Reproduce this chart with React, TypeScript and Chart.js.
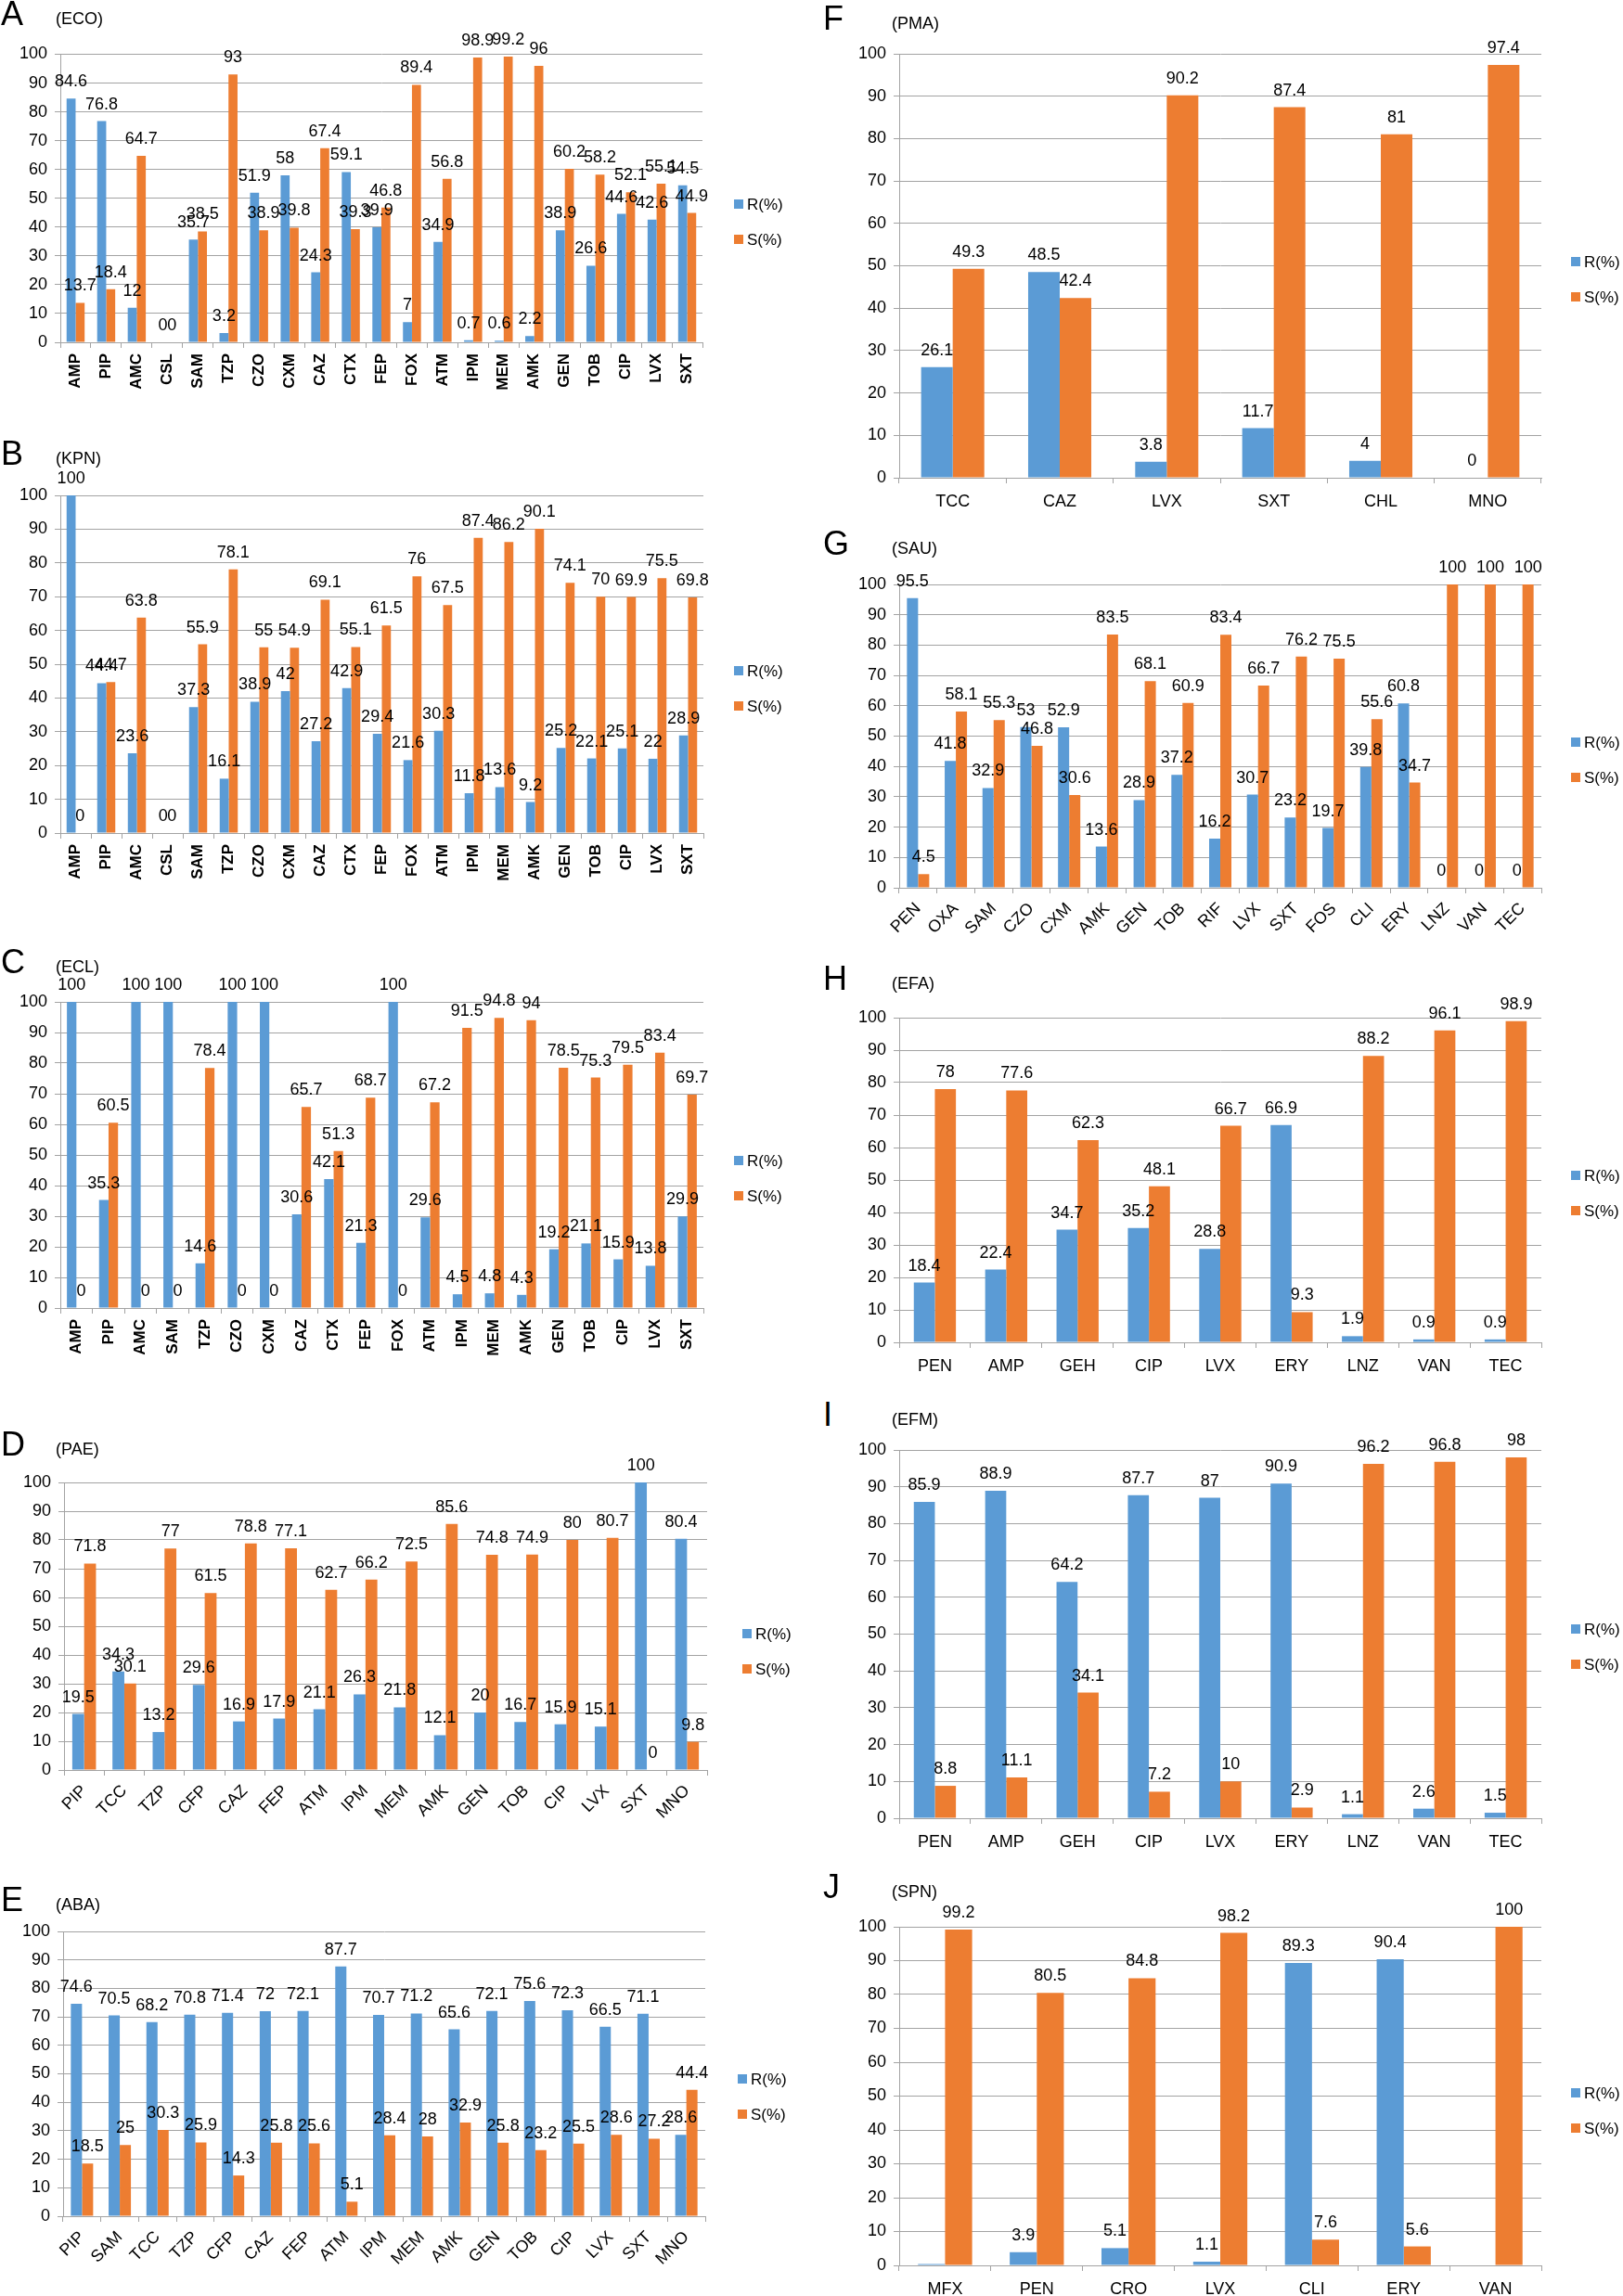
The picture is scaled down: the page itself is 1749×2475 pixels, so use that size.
import React, { useEffect, useRef } from 'react';
import { Chart, registerables } from 'chart.js';
Chart.register(...registerables);

// ---------- data ----------
const ecoCats = ['AMP','PIP','AMC','CSL','SAM','TZP','CZO','CXM','CAZ','CTX','FEP','FOX','ATM','IPM','MEM','AMK','GEN','TOB','CIP','LVX','SXT'];
const ecoR = [84.6,76.8,12,0,35.7,3.2,51.9,58,24.3,59.1,39.9,7,34.9,0.7,0.6,2.2,38.9,26.6,44.6,42.6,54.5];
const ecoS = [13.7,18.4,64.7,0,38.5,93,38.9,39.8,67.4,39.3,46.8,89.4,56.8,98.9,99.2,96,60.2,58.2,52.1,55.1,44.9];

const kpnCats = ['AMP','PIP','AMC','CSL','SAM','TZP','CZO','CXM','CAZ','CTX','FEP','FOX','ATM','IPM','MEM','AMK','GEN','TOB','CIP','LVX','SXT'];
const kpnR = [100,44.4,23.6,0,37.3,16.1,38.9,42,27.2,42.9,29.4,21.6,30.3,11.8,13.6,9.2,25.2,22.1,25.1,22,28.9];
const kpnS = [0,44.7,63.8,0,55.9,78.1,55,54.9,69.1,55.1,61.5,76,67.5,87.4,86.2,90.1,74.1,70,69.9,75.5,69.8];

const eclCats = ['AMP','PIP','AMC','SAM','TZP','CZO','CXM','CAZ','CTX','FEP','FOX','ATM','IPM','MEM','AMK','GEN','TOB','CIP','LVX','SXT'];
const eclR = [100,35.3,100,100,14.6,100,100,30.6,42.1,21.3,100,29.6,4.5,4.8,4.3,19.2,21.1,15.9,13.8,29.9];
const eclS = [0,60.5,0,0,78.4,0,0,65.7,51.3,68.7,0,67.2,91.5,94.8,94,78.5,75.3,79.5,83.4,69.7];

const paeCats = ['PIP','TCC','TZP','CFP','CAZ','FEP','ATM','IPM','MEM','AMK','GEN','TOB','CIP','LVX','SXT','MNO'];
const paeR = [19.5,34.3,13.2,29.6,16.9,17.9,21.1,26.3,21.8,12.1,20,16.7,15.9,15.1,100,80.4];
const paeS = [71.8,30.1,77,61.5,78.8,77.1,62.7,66.2,72.5,85.6,74.8,74.9,80,80.7,0,9.8];

const abaCats = ['PIP','SAM','TCC','TZP','CFP','CAZ','FEP','ATM','IPM','MEM','AMK','GEN','TOB','CIP','LVX','SXT','MNO'];
const abaR = [74.6,70.5,68.2,70.8,71.4,72,72.1,87.7,70.7,71.2,65.6,72.1,75.6,72.3,66.5,71.1,28.6];
const abaS = [18.5,25,30.3,25.9,14.3,25.8,25.6,5.1,28.4,28,32.9,25.8,23.2,25.5,28.6,27.2,44.4];

const pmaCats = ['TCC','CAZ','LVX','SXT','CHL','MNO'];
const pmaR = [26.1,48.5,3.8,11.7,4,0];
const pmaS = [49.3,42.4,90.2,87.4,81,97.4];

const sauCats = ['PEN','OXA','SAM','CZO','CXM','AMK','GEN','TOB','RIF','LVX','SXT','FOS','CLI','ERY','LNZ','VAN','TEC'];
const sauR = [95.5,41.8,32.9,53,52.9,13.6,28.9,37.2,16.2,30.7,23.2,19.7,39.8,60.8,0,0,0];
const sauS = [4.5,58.1,55.3,46.8,30.6,83.5,68.1,60.9,83.4,66.7,76.2,75.5,55.6,34.7,100,100,100];

const efaCats = ['PEN','AMP','GEH','CIP','LVX','ERY','LNZ','VAN','TEC'];
const efaR = [18.4,22.4,34.7,35.2,28.8,66.9,1.9,0.9,0.9];
const efaS = [78,77.6,62.3,48.1,66.7,9.3,88.2,96.1,98.9];

const efmCats = ['PEN','AMP','GEH','CIP','LVX','ERY','LNZ','VAN','TEC'];
const efmR = [85.9,88.9,64.2,87.7,87,90.9,1.1,2.6,1.5];
const efmS = [8.8,11.1,34.1,7.2,10,2.9,96.2,96.8,98];

const spnCats = ['MFX','PEN','CRO','LVX','CLI','ERY','VAN'];
const spnR = [0.4,3.9,5.1,1.1,89.3,90.4,null];
const spnS = [99.2,80.5,84.8,98.2,7.6,5.6,100];

const seriesNames = ['R(%)', 'S(%)'];
const yTicksMax = 100;
const yTickStep = 10;

// ---------- styles / layout ----------
const BLUE = '#5B9BD5';
const ORANGE = '#ED7D31';
const GRID = '#A3A3A3';
const FONT = '"Liberation Sans", Arial, Helvetica, sans-serif';

type Panel = {
  letter: string; title: string; cats: string[]; r: (number | null)[]; s: (number | null)[];
  L: number; T: number; R: number; B: number; rot: number; legX: number; legCY: number;
  base: number; col: number; boldX?: boolean; skip?: number[][];
};

const panels: Panel[] = [
  { letter: 'A', title: '(ECO)', cats: ecoCats, r: ecoR, s: ecoS, L: 65, T: 58.5, R: 757, B: 369, rot: 90, legX: 791, legCY: 239, base: 27, col: 0, boldX: true },
  { letter: 'B', title: '(KPN)', cats: kpnCats, r: kpnR, s: kpnS, L: 65, T: 534, R: 758, B: 898, rot: 90, legX: 791, legCY: 742, base: 501, col: 0, boldX: true },
  { letter: 'C', title: '(ECL)', cats: eclCats, r: eclR, s: eclS, L: 65, T: 1080, R: 758, B: 1410, rot: 90, legX: 791, legCY: 1270, base: 1049, col: 0, boldX: true },
  { letter: 'D', title: '(PAE)', cats: paeCats, r: paeR, s: paeS, L: 69, T: 1598, R: 762, B: 1908, rot: 45, legX: 800, legCY: 1780, base: 1569, col: 0 },
  { letter: 'E', title: '(ABA)', cats: abaCats, r: abaR, s: abaS, L: 68, T: 2082, R: 760, B: 2389, rot: 45, legX: 795, legCY: 2260, base: 2060, col: 0 },
  { letter: 'F', title: '(PMA)', cats: pmaCats, r: pmaR, s: pmaS, L: 969, T: 58, R: 1661, B: 515, rot: 0, legX: 1693, legCY: 301, base: 32, col: 1 },
  { letter: 'G', title: '(SAU)', cats: sauCats, r: sauR, s: sauS, L: 969, T: 630, R: 1661, B: 957, rot: 45, legX: 1693, legCY: 819, base: 598, col: 1 },
  { letter: 'H', title: '(EFA)', cats: efaCats, r: efaR, s: efaS, L: 969, T: 1097, R: 1661, B: 1447, rot: 0, legX: 1693, legCY: 1286, base: 1067, col: 1 },
  { letter: 'I', title: '(EFM)', cats: efmCats, r: efmR, s: efmS, L: 969, T: 1563, R: 1661, B: 1960, rot: 0, legX: 1693, legCY: 1775, base: 1537, col: 1 },
  { letter: 'J', title: '(SPN)', cats: spnCats, r: spnR, s: spnS, L: 969, T: 2077, R: 1661, B: 2442, rot: 0, legX: 1693, legCY: 2275, base: 2046, col: 1, skip: [[0, 0]] },
];

function makeLabelPlugin(skip: number[][]) {
  return {
    id: 'valueLabels',
    afterDatasetsDraw(chart: any) {
      const ctx = chart.ctx;
      ctx.save();
      ctx.font = `18px ${FONT}`;
      ctx.fillStyle = '#000';
      ctx.textAlign = 'center';
      ctx.textBaseline = 'alphabetic';
      chart.data.datasets.forEach((ds: any, di: number) => {
        const meta = chart.getDatasetMeta(di);
        meta.data.forEach((el: any, i: number) => {
          const v = ds.data[i];
          if (v === null || v === undefined) return;
          if (skip.some(([d, k]) => d === di && k === i)) return;
          ctx.fillText(String(v), el.x, el.y - 13);
        });
      });
      ctx.restore();
    },
  };
}

function makeLegendPlugin(x: number, cy: number) {
  return {
    id: 'sideLegend',
    afterDraw(chart: any) {
      const ctx = chart.ctx;
      ctx.save();
      ctx.font = `17px ${FONT}`;
      ctx.textAlign = 'left';
      ctx.textBaseline = 'middle';
      chart.data.datasets.forEach((ds: any, i: number) => {
        const y = cy + (i - 0.5) * 38;
        ctx.fillStyle = ds.backgroundColor;
        ctx.fillRect(x, y - 5, 10, 10);
        ctx.fillStyle = '#000';
        ctx.fillText(ds.label, x + 14, y + 1);
      });
      ctx.restore();
    },
  };
}

function ChartPanel({ p }: { p: Panel }) {
  const ref = useRef<HTMLCanvasElement>(null);
  const colLeft = p.col === 0 ? 0 : 900;
  const colRight = p.col === 0 ? 862 : 1749;
  const cTop = Math.floor(p.T) - 42;
  const xH = p.rot === 90 ? 52 : p.rot === 45 ? 62 : 40;
  const cBottom = p.B + xH + 6;
  const w = colRight - colLeft;
  const h = cBottom - cTop;

  useEffect(() => {
    if (!ref.current) return;
    const chart = new Chart(ref.current, {
      type: 'bar',
      data: {
        labels: p.cats,
        datasets: [
          { label: seriesNames[0], data: p.r as any, backgroundColor: BLUE, borderWidth: 0 },
          { label: seriesNames[1], data: p.s as any, backgroundColor: ORANGE, borderWidth: 0 },
        ],
      },
      options: {
        responsive: false,
        animation: false,
        devicePixelRatio: 1,
        events: [],
        layout: {
          padding: { left: 0, top: p.T - cTop, right: colRight - p.R, bottom: cBottom - p.B - xH },
        },
        datasets: { bar: { categoryPercentage: 0.59, barPercentage: 1 } },
        plugins: { legend: { display: false }, tooltip: { enabled: false }, title: { display: false } },
        scales: {
          x: {
            offset: true,
            grid: { display: true, drawOnChartArea: false, drawTicks: true, tickLength: 6, color: GRID, lineWidth: 1, offset: true },
            border: { display: true, color: GRID, width: 1 },
            ticks: {
              autoSkip: false,
              minRotation: p.rot,
              maxRotation: p.rot,
              padding: p.rot === 0 ? 9 : 6,
              color: '#000',
              font: { family: FONT, size: p.boldX ? 17 : 18, weight: p.boldX ? 'bold' : 'normal' },
            },
            afterFit: (s: any) => { s.height = xH; },
          },
          y: {
            min: 0,
            max: yTicksMax,
            ticks: { stepSize: yTickStep, padding: 8, color: '#000', font: { family: FONT, size: 18 } },
            grid: { color: GRID, lineWidth: 1, tickLength: 6 },
            border: { display: true, color: GRID, width: 1 },
            afterFit: (s: any) => { s.width = p.L - colLeft; },
          },
        },
      } as any,
      plugins: [makeLabelPlugin(p.skip || []), makeLegendPlugin(p.legX - colLeft, p.legCY - cTop)],
    });
    return () => chart.destroy();
  }, []);

  return (
    <canvas
      ref={ref}
      width={w}
      height={h}
      style={{ position: 'absolute', left: colLeft, top: cTop, width: w, height: h, display: 'block' }}
    />
  );
}

export default function App() {
  return (
    <div style={{ position: 'absolute', left: 0, top: 0, width: 1749, height: 2475, overflow: 'hidden', background: '#fff', fontFamily: FONT }}>
      {panels.map((p) => (
        <ChartPanel key={p.letter} p={p} />
      ))}
      {panels.map((p) => (
        <React.Fragment key={'t' + p.letter}>
          <div style={{ position: 'absolute', left: p.col === 0 ? 1 : 887, top: p.base - 30.5, fontSize: 36, lineHeight: '36px', color: '#000', whiteSpace: 'nowrap' }}>
            {p.letter}
          </div>
          <div style={{ position: 'absolute', left: p.col === 0 ? 60 : 961, top: p.base - 1 - 15.2, fontSize: 18, lineHeight: '18px', color: '#000', whiteSpace: 'nowrap' }}>
            {p.title}
          </div>
        </React.Fragment>
      ))}
    </div>
  );
}
